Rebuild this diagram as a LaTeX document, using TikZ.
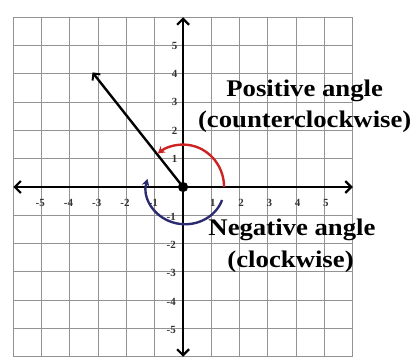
\documentclass[tikz,border=0pt]{standalone}
\usepackage{fontspec}
\setmainfont{Liberation Serif}
\usetikzlibrary{arrows.meta}
\definecolor{arcred}{HTML}{CC2222}
\definecolor{arcnavy}{HTML}{2B2B70}
\tikzset{
  gridline/.style={gray!85, line width=1pt},
  axis/.style={black, line width=2.8pt, {Straight Barb[length=6pt,width=12pt,line width=2.2pt]}-{Straight Barb[length=6pt,width=12pt,line width=2.2pt]}},
  ray/.style={black, line width=2.4pt, -{Straight Barb[length=5pt,width=10pt,line width=2pt]}},
  turn/.style={line width=2.4pt, -{Stealth[length=7pt,width=8pt]}},
  ticklabel/.style={font=\fontsize{11}{11}\selectfont\bfseries, inner sep=0pt, text=black!80},
  caption/.style={font=\fontsize{24}{24}\selectfont\bfseries, inner sep=0pt, xscale=1.12}
}
\begin{document}
\begin{tikzpicture}[x=1cm,y=1cm]
\useasboundingbox (-6.47,-6.11) rectangle (8.34,6.61);
\draw[gridline] (-6,-6) grid (6,6);
\coordinate (O) at (0,0);
\coordinate (xl) at (-6,0);
\coordinate (xr) at (6,0);
\coordinate (yb) at (0,-6);
\coordinate (yt) at (0,6);
\foreach \i in {-5,-4,-3,-2,-1} {
  \node[ticklabel] (xl\i) at (\i-0.05,-0.55) {\i};
  \node[ticklabel] (yl\i) at (-0.42,\i-0.05) {\i};
}
\foreach \i in {1,2,3,4,5} {
  \node[ticklabel] (xr\i) at (\i+0.05,-0.55) {\i};
  \node[ticklabel] (yu\i) at (-0.3,\i) {\i};
}
\draw[axis] (xl) -- (xr);
\draw[axis] (yb) -- (yt);
\coordinate (tip) at (-3.2,4.05);
\draw[ray] (O) -- (tip);
\fill[black] (O) circle (0.18);
\draw[turn, arcred] (1.45,0) arc[start angle=0, end angle=128, x radius=1.45, y radius=1.5];
\draw[turn, arcnavy] (1.38,-0.46) arc[start angle=-19, end angle=-195, x radius=1.38, y radius=1.27];
\node[caption] (pos) at (4.3,3.4) {Positive angle};
\node[caption] (ccw) at (4.3,2.3) {(counterclockwise)};
\node[caption] (neg) at (3.85,-1.52) {Negative angle};
\node[caption] (cw) at (3.8,-2.65) {(clockwise)};
\end{tikzpicture}
\end{document}
